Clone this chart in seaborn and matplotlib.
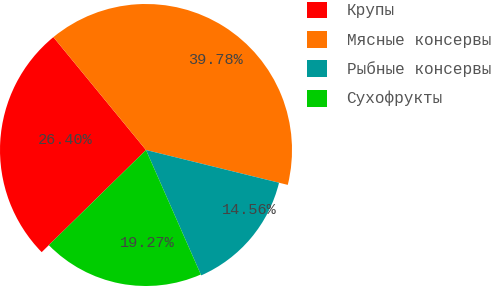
import matplotlib
matplotlib.use("Agg")
import matplotlib.pyplot as plt
import seaborn as sns
from matplotlib.patches import Patch

categories = ["Крупы", "Мясные консервы", "Рыбные консервы", "Сухофрукты"]
values = [26.40, 39.78, 14.56, 19.27]
colors = ["#FF0000", "#FF7400", "#009999", "#00CC00"]
radii = [146, 146, 137, 136]
# label offsets (pixels from centre)
label_pos = [(-81, 10), (69, 90), (103, -60), (1, -93)]

sns.set_theme(style="white")
plt.rcParams['font.family'] = ['Liberation Mono', 'DejaVu Sans Mono']

W, H = 497, 286
cx, cy = 146, 150
fig = plt.figure(figsize=(W / 100, H / 100), dpi=100)
ax = fig.add_axes([0, 0, 1, 1])

wedges, _ = ax.pie(values, colors=colors, startangle=224.4, counterclock=False,
                   radius=146, wedgeprops=dict(linewidth=0))
for w, r in zip(wedges, radii):
    w.set_radius(r)

ax.set_xlim(-cx, W - cx)
ax.set_ylim(-(H - cy), cy)
ax.set_aspect('equal')
ax.axis('off')

for v, (x, y) in zip(values, label_pos):
    ax.text(x, y, f"{v:.2f}%", ha='center', va='center', fontsize=11, color='#444444')

handles = [Patch(facecolor=c, edgecolor='none') for c in colors]
leg = fig.legend(handles, categories, loc='upper left', bbox_to_anchor=(305 / W, 1.0),
                 frameon=False, fontsize=11.5, handlelength=1.25, handleheight=1.25,
                 labelspacing=0.78, handletextpad=1.25, borderaxespad=0, borderpad=0.1)
for t in leg.get_texts():
    t.set_color('#555555')

fig.savefig("out.png", dpi=100)
